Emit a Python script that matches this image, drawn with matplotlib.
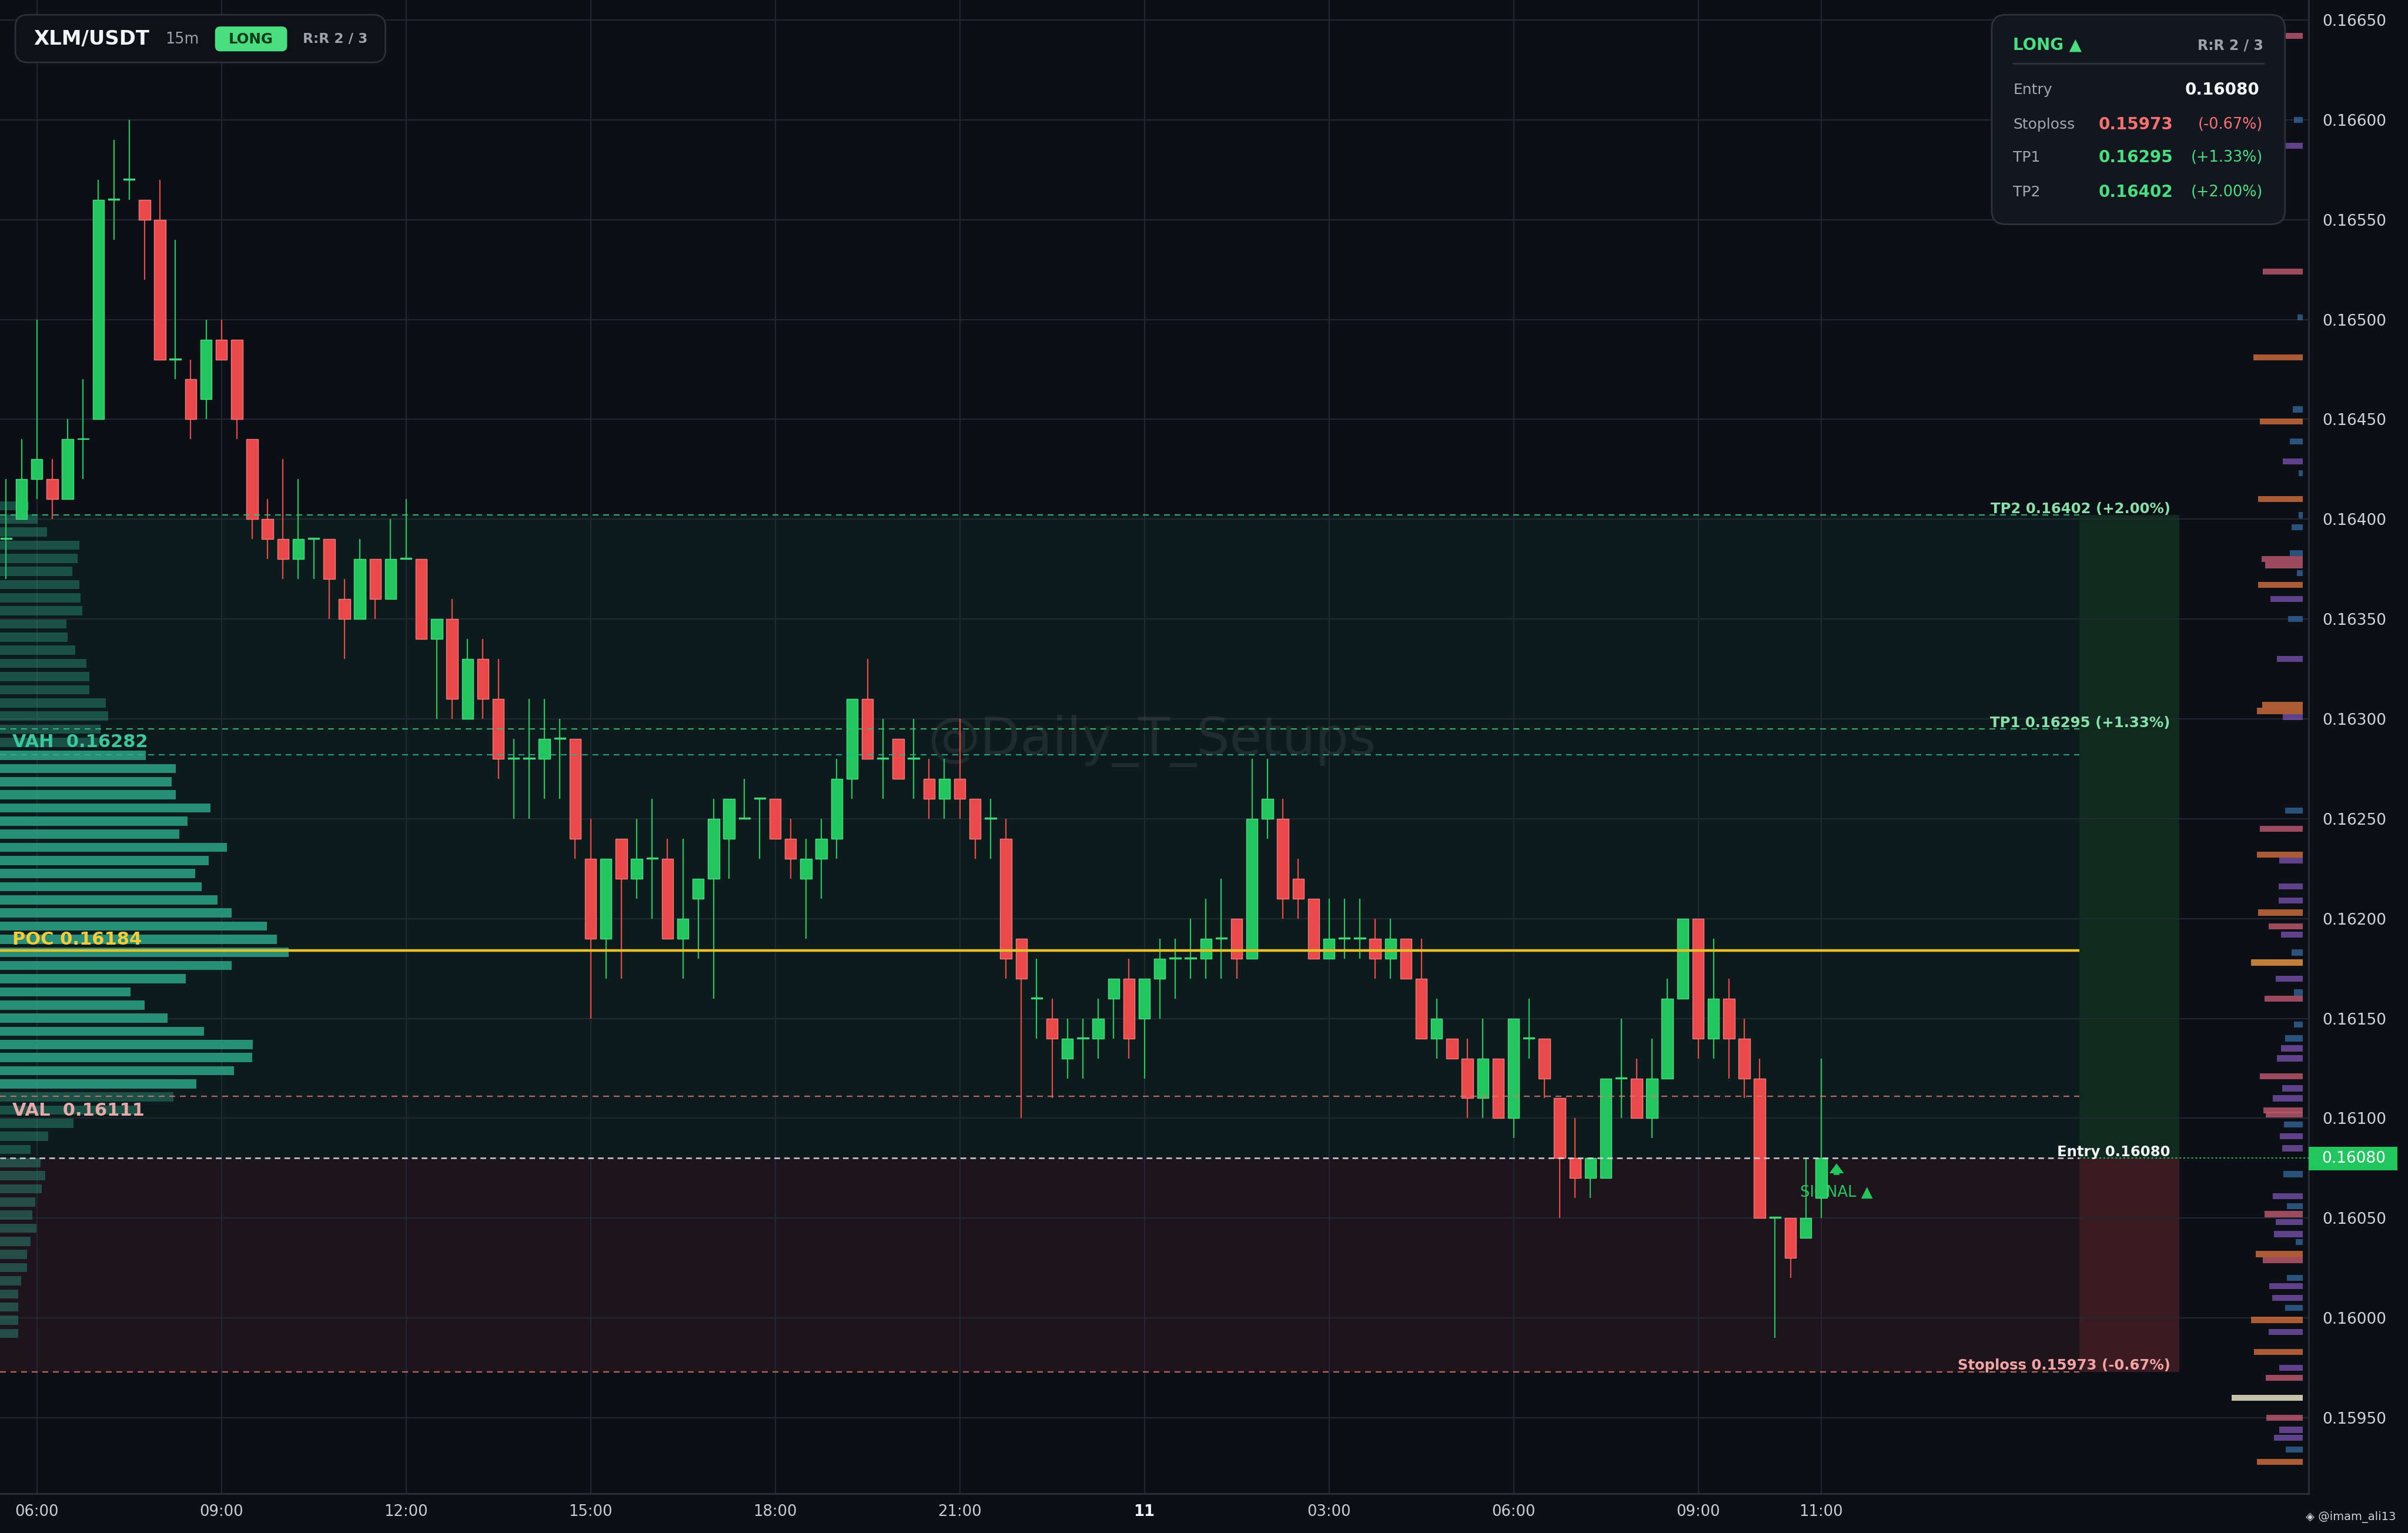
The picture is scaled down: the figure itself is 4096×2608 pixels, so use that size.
import matplotlib
matplotlib.use("Agg")
import matplotlib.pyplot as plt
from matplotlib.patches import FancyBboxPatch, Rectangle
import numpy as np

plt.rcParams['font.family'] = ['DejaVu Sans']

# XLM/USDT 15m candles, first candle 05:30
opens = [
    0.1639, 0.1640, 0.1642, 0.1642, 0.1641, 0.1644, 0.1645, 0.1656, 0.1657, 0.1656,
    0.1655, 0.1648, 0.1647, 0.1646, 0.1649, 0.1649, 0.1644, 0.1640, 0.1639, 0.1638,
    0.1639, 0.1639, 0.1636, 0.1635, 0.1638, 0.1636, 0.1638, 0.1638, 0.1634, 0.1635,
    0.1630, 0.1633, 0.1631, 0.1628, 0.1628, 0.1628, 0.1629, 0.1629, 0.1623, 0.1619,
    0.1624, 0.1622, 0.1623, 0.1623, 0.1619, 0.1621, 0.1622, 0.1624, 0.1625, 0.1626,
    0.1626, 0.1624, 0.1622, 0.1623, 0.1624, 0.1627, 0.1631, 0.1628, 0.1629, 0.1628,
    0.1627, 0.1626, 0.1627, 0.1626, 0.1625, 0.1624, 0.1619, 0.1616, 0.1615, 0.1613,
    0.1614, 0.1614, 0.1616, 0.1617, 0.1615, 0.1617, 0.1618, 0.1618, 0.1618, 0.1619,
    0.1620, 0.1618, 0.1625, 0.1625, 0.1622, 0.1621, 0.1618, 0.1619, 0.1619, 0.1619,
    0.1618, 0.1619, 0.1617, 0.1614, 0.1614, 0.1613, 0.1611, 0.1613, 0.1610, 0.1614,
    0.1614, 0.1611, 0.1608, 0.1607, 0.1607, 0.1612, 0.1612, 0.1610, 0.1612, 0.1616,
    0.1620, 0.1614, 0.1616, 0.1614, 0.1612, 0.1605, 0.1605, 0.1604, 0.1606,
]
highs = [
    0.1642, 0.1644, 0.1650, 0.1643, 0.1645, 0.1647, 0.1657, 0.1659, 0.1660, 0.1656,
    0.1657, 0.1654, 0.1648, 0.1650, 0.1650, 0.1649, 0.1644, 0.1641, 0.1643, 0.1642,
    0.1639, 0.1639, 0.1637, 0.1639, 0.1638, 0.1640, 0.1641, 0.1638, 0.1635, 0.1636,
    0.1634, 0.1634, 0.1633, 0.1629, 0.1631, 0.1631, 0.1630, 0.1629, 0.1625, 0.1623,
    0.1624, 0.1625, 0.1626, 0.1624, 0.1624, 0.1622, 0.1626, 0.1626, 0.1627, 0.1626,
    0.1626, 0.1625, 0.1624, 0.1625, 0.1628, 0.1631, 0.1633, 0.1630, 0.1629, 0.1630,
    0.1628, 0.1628, 0.1630, 0.1626, 0.1626, 0.1625, 0.1619, 0.1618, 0.1616, 0.1615,
    0.1615, 0.1616, 0.1617, 0.1618, 0.1617, 0.1619, 0.1619, 0.1620, 0.1621, 0.1622,
    0.1620, 0.1628, 0.1628, 0.1626, 0.1623, 0.1621, 0.1621, 0.1621, 0.1621, 0.1620,
    0.1620, 0.1619, 0.1619, 0.1616, 0.1614, 0.1614, 0.1615, 0.1613, 0.1615, 0.1616,
    0.1614, 0.1611, 0.1610, 0.1608, 0.1612, 0.1615, 0.1613, 0.1614, 0.1617, 0.1620,
    0.1620, 0.1619, 0.1617, 0.1615, 0.1613, 0.1605, 0.1605, 0.1608, 0.1613,
]
lows = [
    0.1637, 0.1640, 0.1641, 0.1640, 0.1641, 0.1642, 0.1645, 0.1654, 0.1656, 0.1652,
    0.1648, 0.1647, 0.1644, 0.1645, 0.1648, 0.1644, 0.1639, 0.1638, 0.1637, 0.1637,
    0.1637, 0.1635, 0.1633, 0.1635, 0.1635, 0.1636, 0.1638, 0.1634, 0.1630, 0.1630,
    0.1630, 0.1630, 0.1627, 0.1625, 0.1625, 0.1626, 0.1626, 0.1623, 0.1615, 0.1617,
    0.1617, 0.1621, 0.1620, 0.1619, 0.1617, 0.1618, 0.1616, 0.1622, 0.1625, 0.1623,
    0.1624, 0.1622, 0.1619, 0.1621, 0.1623, 0.1626, 0.1628, 0.1626, 0.1627, 0.1626,
    0.1625, 0.1625, 0.1625, 0.1623, 0.1623, 0.1617, 0.1610, 0.1614, 0.1611, 0.1612,
    0.1612, 0.1613, 0.1614, 0.1613, 0.1612, 0.1615, 0.1616, 0.1617, 0.1617, 0.1617,
    0.1617, 0.1618, 0.1624, 0.1620, 0.1620, 0.1618, 0.1618, 0.1618, 0.1618, 0.1617,
    0.1617, 0.1617, 0.1614, 0.1613, 0.1613, 0.1610, 0.1610, 0.1610, 0.1609, 0.1613,
    0.1611, 0.1605, 0.1606, 0.1606, 0.1607, 0.1610, 0.1610, 0.1609, 0.1612, 0.1616,
    0.1613, 0.1613, 0.1612, 0.1611, 0.1605, 0.1599, 0.1602, 0.1604, 0.1605,
]
closes = [
    0.1639, 0.1642, 0.1643, 0.1641, 0.1644, 0.1644, 0.1656, 0.1656, 0.1657, 0.1655,
    0.1648, 0.1648, 0.1645, 0.1649, 0.1648, 0.1645, 0.1640, 0.1639, 0.1638, 0.1639,
    0.1639, 0.1637, 0.1635, 0.1638, 0.1636, 0.1638, 0.1638, 0.1634, 0.1635, 0.1631,
    0.1633, 0.1631, 0.1628, 0.1628, 0.1628, 0.1629, 0.1629, 0.1624, 0.1619, 0.1623,
    0.1622, 0.1623, 0.1623, 0.1619, 0.1620, 0.1622, 0.1625, 0.1626, 0.1625, 0.1626,
    0.1624, 0.1623, 0.1623, 0.1624, 0.1627, 0.1631, 0.1628, 0.1628, 0.1627, 0.1628,
    0.1626, 0.1627, 0.1626, 0.1624, 0.1625, 0.1618, 0.1617, 0.1616, 0.1614, 0.1614,
    0.1614, 0.1615, 0.1617, 0.1614, 0.1617, 0.1618, 0.1618, 0.1618, 0.1619, 0.1619,
    0.1618, 0.1625, 0.1626, 0.1621, 0.1621, 0.1618, 0.1619, 0.1619, 0.1619, 0.1618,
    0.1619, 0.1617, 0.1614, 0.1615, 0.1613, 0.1611, 0.1613, 0.1610, 0.1615, 0.1614,
    0.1612, 0.1608, 0.1607, 0.1608, 0.1612, 0.1612, 0.1610, 0.1612, 0.1616, 0.1620,
    0.1614, 0.1616, 0.1614, 0.1612, 0.1605, 0.1605, 0.1603, 0.1605, 0.1608,
]

first_hour = 5.5
tick_hours = [6, 9, 12, 15, 18, 21, 24, 27, 30, 33, 35]
tick_labels = ["06:00", "09:00", "12:00", "15:00", "18:00", "21:00", "11",
               "03:00", "06:00", "09:00", "11:00"]

# trade levels
entry = 0.16080
stoploss = 0.15973
tp1 = 0.16295
tp2 = 0.16402
poc = 0.16184
vah = 0.16282
val = 0.16111

# session volume profile (left), top bin first
vp_low, vp_high = 0.15989, 0.16410
vp_volume = [137, 180, 225, 380, 370, 345, 380, 385, 392, 318,
             323, 358, 413, 427, 427, 505, 515, 480, 470, 695,
             840, 820, 840, 1005, 895, 855, 1083, 997, 932, 962,
             1037, 1105, 1273, 1322, 1378, 1106, 888, 622, 690, 800,
             973, 1207, 1205, 1118, 938, 827, 655, 352, 230, 145,
             195, 215, 200, 167, 155, 175, 145, 128, 128, 102,
             87, 87, 87, 87]

# liquidity strip (right edge)
strip_price = [0.16642, 0.16600, 0.16587, 0.16524, 0.16501, 0.16481, 0.16455, 0.16449,
               0.16439, 0.16429, 0.16423, 0.16410, 0.16402, 0.16396, 0.16383, 0.16380,
               0.16377, 0.16373, 0.16367, 0.16360, 0.16350, 0.16330, 0.16307, 0.16304,
               0.16301, 0.16254, 0.16245, 0.16232, 0.16229, 0.16216, 0.16209, 0.16203,
               0.16196, 0.16192, 0.16183, 0.16178, 0.16170, 0.16163, 0.16160, 0.16147,
               0.16140, 0.16135, 0.16130, 0.16121, 0.16115, 0.16110, 0.16104, 0.16102,
               0.16097, 0.16091, 0.16085, 0.16072, 0.16061, 0.16056, 0.16052, 0.16048,
               0.16042, 0.16038, 0.16032, 0.16029, 0.16020, 0.16016, 0.16010, 0.16005,
               0.15999, 0.15993, 0.15983, 0.15975, 0.15970, 0.15960, 0.15950, 0.15944,
               0.15940, 0.15934, 0.15928]
strip_size = [88, 45, 90, 202, 25, 252, 50, 218,
              65, 100, 20, 228, 20, 55, 65, 210,
              190, 30, 227, 165, 75, 130, 205, 232,
              100, 90, 218, 232, 120, 123, 123, 227,
              173, 110, 55, 262, 138, 45, 193, 45,
              90, 110, 130, 217, 105, 152, 200, 188,
              95, 115, 105, 97, 152, 80, 195, 138,
              145, 35, 240, 202, 80, 170, 155, 88,
              262, 173, 247, 120, 188, 363, 185, 118,
              145, 85, 232]
strip_kind = ['pink', 'blue', 'purple', 'pink', 'blue', 'orange', 'blue', 'orange',
              'blue', 'purple', 'blue', 'orange', 'blue', 'blue', 'blue', 'pink',
              'pink', 'blue', 'orange', 'purple', 'blue', 'purple', 'orange', 'orange',
              'purple', 'blue', 'pink', 'orange', 'purple', 'purple', 'purple', 'orange',
              'pink', 'purple', 'blue', 'gold', 'purple', 'blue', 'pink', 'blue',
              'blue', 'purple', 'purple', 'pink', 'purple', 'purple', 'pink', 'pink',
              'blue', 'purple', 'purple', 'blue', 'purple', 'blue', 'pink', 'purple',
              'purple', 'blue', 'orange', 'pink', 'blue', 'purple', 'purple', 'blue',
              'orange', 'purple', 'orange', 'purple', 'pink', 'cream', 'pink', 'purple',
              'purple', 'blue', 'orange']

# colours
BG = '#0c0f16'
GREEN = '#22c55e'
GREEN_EDGE = '#4ade80'
RED = '#e9494a'
RED_EDGE = '#f27b7b'
GRID = '#232934'
strip_colors = {'orange': '#c96a3b', 'pink': '#b5566a', 'purple': '#6e4c9e',
                'blue': '#2f5f8f', 'gold': '#e3923d', 'cream': '#e8e2c4'}

# layout in reference display pixels (1568 x 998.4)
REF_W, REF_H = 1568.1, 998.4
S = 20.48 / REF_W  # inches per reference pixel

fig = plt.figure(figsize=(20.48, 13.04), dpi=200, facecolor=BG)
ax = fig.add_axes([0, 1 - 972.8 / REF_H, 1503.3 / REF_W, 972.8 / REF_H])
ax.set_facecolor(BG)

x_left, x_right = -0.396, 149.68
ax.set_xlim(x_left, x_right)
ax.set_ylim(0.15912, 0.16660)

zone_split, zone_end = 134.8, 141.3

# trade zones
ax.fill_between([x_left, zone_split], entry, tp2, color='#0e1b1c', lw=0, zorder=0.2)
ax.fill_between([zone_split, zone_end], entry, tp2, color='#112a20', lw=0, zorder=0.2)
ax.fill_between([x_left, zone_split], stoploss, entry, color='#1e141b', lw=0, zorder=0.2)
ax.fill_between([zone_split, zone_end], stoploss, entry, color='#391b21', lw=0, zorder=0.2)

# grid
tick_pos = [(h - first_hour) * 4 for h in tick_hours]
price_ticks = np.arange(0.1595, 0.16651, 0.0005)
for y in price_ticks:
    ax.axhline(y, color=GRID, lw=0.7, zorder=1)
for x in tick_pos:
    ax.axvline(x, color=GRID, lw=0.7, zorder=1)

# volume profile
vp_step = (vp_high - vp_low) / len(vp_volume)
vp_center = vp_high - vp_step * (np.arange(len(vp_volume)) + 0.5)
vp_width = np.array(vp_volume) * (18.77 / max(vp_volume))
in_va = (vp_center >= val - 1e-6) & (vp_center <= vah + 1e-6)
ax.barh(vp_center[in_va], vp_width[in_va], height=vp_step * 0.7, left=x_left,
        color='#2a9d82', alpha=0.9, lw=0, zorder=1.5)
ax.barh(vp_center[~in_va], vp_width[~in_va], height=vp_step * 0.7, left=x_left,
        color='#2a9d82', alpha=0.42, lw=0, zorder=1.5)

# liquidity strip
strip_right = 149.3
for p, s, k in zip(strip_price, strip_size, strip_kind):
    w = s / 78.5
    ax.barh(p, w, height=0.00003, left=strip_right - w, color=strip_colors[k],
            alpha=0.85, lw=0, zorder=1.5)

# watermark
ax.text(74.5, 0.16289, "@Daily_T_Setups", fontsize=32, color='white', alpha=0.07,
        ha='center', va='center', zorder=1.8)

# signal marker (drawn under candles)
ax.text(119.0, 0.160628, "SIGNAL \u25b2", fontsize=9.3, color=GREEN, ha='center',
        va='center', zorder=2.8)
ax.annotate("", xy=(119.0, 0.16079), xytext=(119.0, 0.16070),
            arrowprops=dict(arrowstyle='simple,head_width=0.9,head_length=0.6,tail_width=0.35',
                            color=GREEN, lw=0), zorder=2.8)

# candles
idx = np.arange(len(opens))
o = np.array(opens)
c = np.array(closes)
up = c >= o
body_lo = np.minimum(o, c)
body_h = np.maximum(np.abs(c - o), 0.0000055)
ax.vlines(idx[up], np.array(lows)[up], np.array(highs)[up], color=GREEN, lw=0.8, zorder=3)
ax.vlines(idx[~up], np.array(lows)[~up], np.array(highs)[~up], color=RED, lw=0.8, zorder=3)
ax.bar(idx[up], body_h[up], bottom=body_lo[up], width=0.74, color=GREEN,
       edgecolor=GREEN_EDGE, lw=0.5, zorder=3.2)
ax.bar(idx[~up], body_h[~up], bottom=body_lo[~up], width=0.74, color=RED,
       edgecolor=RED_EDGE, lw=0.5, zorder=3.2)

# level lines
dash = (0, (4.5, 3.6))
ax.hlines(tp2, x_left, zone_split, colors='#3fbf80', lw=0.8, linestyles=dash, alpha=0.85, zorder=4)
ax.hlines(tp1, x_left, zone_split, colors='#3fbf80', lw=0.8, linestyles=dash, alpha=0.85, zorder=4)
ax.hlines(vah, x_left, zone_split, colors='#2fb38f', lw=0.8, linestyles=dash, alpha=0.85, zorder=4)
ax.hlines(val, x_left, zone_split, colors='#d9776f', lw=0.8, linestyles=dash, alpha=0.85, zorder=4)
ax.hlines(stoploss, x_left, zone_split, colors='#d9776f', lw=0.8, linestyles=dash, alpha=0.85, zorder=4)
ax.hlines(entry, x_left, zone_split, colors='#d8dce2', lw=1.0, linestyles=(0, (3.5, 2.5)),
          alpha=0.85, zorder=4)
ax.hlines(entry, zone_split, x_right, colors=GREEN, lw=0.7, linestyles=(0, (1.5, 2.0)), zorder=4)
ax.hlines(poc, x_left, zone_split, colors='#e5c02a', lw=1.6, zorder=4)

# level labels (right)
lab_x = 140.7
ax.text(lab_x, tp2 + 0.00001, "TP2 0.16402 (+2.00%)", color='#86e0a8', fontsize=8.8,
        fontweight='bold', ha='right', va='baseline', zorder=5)
ax.text(lab_x, tp1 + 0.00001, "TP1 0.16295 (+1.33%)", color='#86e0a8', fontsize=8.8,
        fontweight='bold', ha='right', va='baseline', zorder=5)
ax.text(lab_x, entry + 0.00001, "Entry 0.16080", color='#f3f4f6', fontsize=8.8,
        fontweight='bold', ha='right', va='baseline', zorder=5)
ax.text(lab_x, stoploss + 0.00001, "Stoploss 0.15973 (-0.67%)", color='#f2a3a3',
        fontsize=8.8, fontweight='bold', ha='right', va='baseline', zorder=5)

# level labels (left)
ax.text(0.4, vah + 0.00004, "VAH  0.16282", color='#3cc79a', fontsize=11,
        fontweight='bold', ha='left', va='baseline', zorder=5)
ax.text(0.4, poc + 0.00003, "POC 0.16184", color='#f5cd3a', fontsize=11,
        fontweight='bold', ha='left', va='baseline', zorder=5)
ax.text(0.4, val - 0.000028, "VAL  0.16111", color='#e7a9a9', fontsize=11,
        fontweight='bold', ha='left', va='top', zorder=5)

# axes styling
for side in ['top', 'left']:
    ax.spines[side].set_visible(False)
ax.spines['right'].set_color('#2a303a')
ax.spines['bottom'].set_color('#2a303a')
ax.spines['right'].set_linewidth(1.0)
ax.spines['bottom'].set_linewidth(1.0)
ax.yaxis.tick_right()
ax.set_yticks(price_ticks)
ax.set_yticklabels([f"{p:.5f}" for p in price_ticks])
ax.tick_params(axis='y', length=0, pad=8.5, labelsize=9.5, labelcolor='#d1d5db')
ax.set_xticks(tick_pos)
ax.set_xticklabels(tick_labels)
ax.tick_params(axis='x', length=0, pad=6.5, labelsize=9.3, labelcolor='#c9cdd4')
for lbl in ax.get_xticklabels():
    if lbl.get_text() == "11":
        lbl.set_fontweight('bold')
        lbl.set_color('#f3f4f6')


# figure overlays, positioned in reference pixels
def fbox(x0, y0, x1, y1, r, **kw):
    p = FancyBboxPatch((x0 * S, (REF_H - y1) * S), (x1 - x0) * S, (y1 - y0) * S,
                       boxstyle=f"round,pad=0,rounding_size={r * S}",
                       transform=fig.dpi_scale_trans, **kw)
    fig.add_artist(p)


def ftext(x, y, s, **kw):
    fig.text(x * S, (REF_H - y) * S, s, transform=fig.dpi_scale_trans, **kw)


# current price tag on the axis
fig.add_artist(Rectangle((1503.3 * S, (REF_H - 762) * S), 58 * S, 15.3 * S,
                         transform=fig.dpi_scale_trans, fc=GREEN, ec='none'))
ftext(1512, 754.4, "0.16080", fontsize=9.5, color='white', va='center', ha='left')

# header
fbox(10, 9.6, 251, 40.6, 8, fc='#0e1118', ec='#2b303a', lw=1.0)
ftext(21.9, 25.6, "XLM/USDT", fontsize=12.2, fontweight='bold', color='#f3f4f6', va='center')
ftext(107.6, 25.6, "15m", fontsize=9.2, color='#9ca3af', va='center')
fbox(140, 17.2, 187, 33.4, 3.5, fc='#4ade80', ec='none')
ftext(163.5, 25.6, "LONG", fontsize=8.8, fontweight='bold', color='#063b19',
      va='center', ha='center')
ftext(197, 25.6, "R:R 2 / 3", fontsize=8.4, fontweight='bold', color='#9ca3af', va='center')

# trade panel
fbox(1297, 9.6, 1488, 146, 9, fc='#12161f', ec='#2c323e', lw=1.0)
ftext(1311, 29.3, "LONG \u25b2", fontsize=10, fontweight='bold', color='#4ade80', va='center')
ftext(1474, 29.6, "R:R 2 / 3", fontsize=8.5, fontweight='bold', color='#9ca3af',
      va='center', ha='right')
fig.add_artist(plt.Line2D([1311 * S, 1474 * S], [(REF_H - 41.2) * S] * 2,
                          transform=fig.dpi_scale_trans, color='#2c323e', lw=1.0))
rows = [("Entry", "0.16080", "", '#f3f4f6', 58.7),
        ("Stoploss", "0.15973", "(-0.67%)", '#f87171', 81.0),
        ("TP1", "0.16295", "(+1.33%)", '#4ade80', 102.7),
        ("TP2", "0.16402", "(+2.00%)", '#4ade80', 125.0)]
for name, value, pct, col, y in rows:
    ftext(1311, y, name, fontsize=9, color='#a3a9b4', va='center')
    if pct:
        ftext(1415.2, y, value, fontsize=10, fontweight='bold', color=col,
              va='center', ha='right')
        ftext(1473.6, y, pct, fontsize=9.2, color=col, va='center', ha='right')
    else:
        ftext(1471.4, y, value, fontsize=10, fontweight='bold', color=col,
              va='center', ha='right')

# author tag
ftext(1531, 988, "\u25c8 @imam_ali13", fontsize=7, color='#d1d5db', va='center', ha='center')

fig.savefig("out.png", dpi=200, facecolor=BG)
